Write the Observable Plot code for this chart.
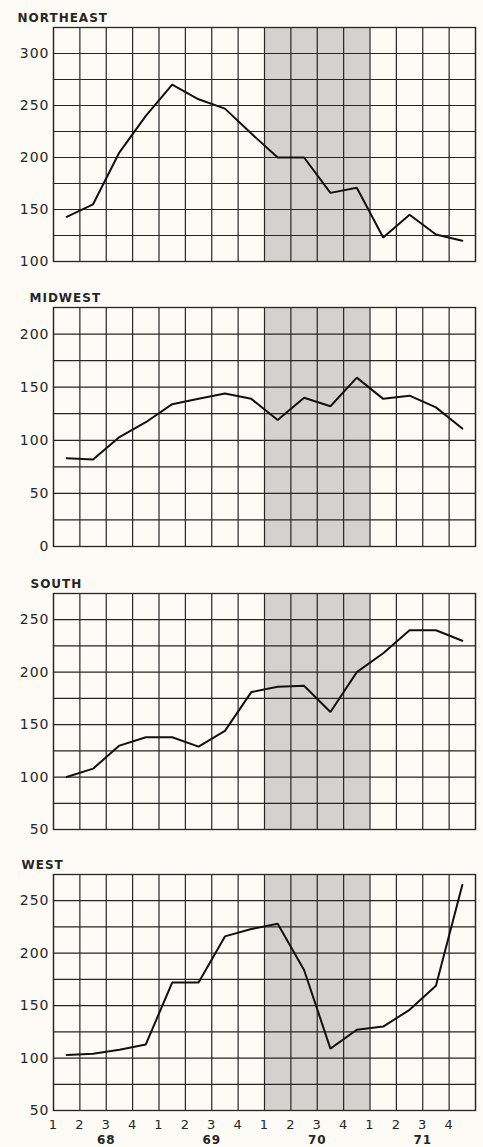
<!DOCTYPE html>
<html><head><meta charset="utf-8">
<script src="https://cdn.jsdelivr.net/npm/d3@7"></script>
<script src="https://cdn.jsdelivr.net/npm/@observablehq/plot@0.6"></script>
<style>
html,body{margin:0;padding:0;background:#fcfbf6;}
#chart{width:483px;}
#chart svg{display:block;}
#chart svg text{letter-spacing:1px;}
#chart svg text.title{letter-spacing:1.5px;}
</style></head><body><div id="chart"></div>
<script>
// ---- data ----
const quarters = ["1","2","3","4","1","2","3","4","1","2","3","4","1","2","3","4"];
const years = ["68","69","70","71"];
const regions = ["NORTHEAST","MIDWEST","SOUTH","WEST"];
const northeast = [143,155,205,240,270,256,247,223,200,200,166,171,123,145,126,120];
const midwest   = [83,82,103,117,134,139,144,139,119,140,132,159,139,142,131,111];
const south     = [100,108,130,138,138,129,144,181,186,187,162,200,218,240,240,230];
const west      = [103,104,108,113,172,172,216,223,228,184,109,127,130,146,169,265];
const yDomains  = [[100,325],[0,225],[50,275],[50,275]];
const recessionQuarters = [8,12]; // 1970 Q1 through Q4

// ---- layout (styles / positions) ----
const layout = [
  {height:280, top:27, bottom:19, titleX:17},
  {height:280, top:27, bottom:14, titleX:29},
  {height:280, top:33, bottom:11, titleX:30},
  {height:307, top:34, bottom:37, titleX:21}
];
const series = [northeast, midwest, south, west];
const ink = "#262626";
const chart = document.getElementById("chart");

series.forEach((values, k) => {
  const [lo, hi] = yDomains[k];
  const L = layout[k];
  const last = k === series.length - 1;
  const marks = [
    Plot.rect([recessionQuarters], {x1: d => d[0], x2: d => d[1], fill: "#d4d2ce"}),
    Plot.gridX(d3.range(0, 17), {stroke: ink, strokeOpacity: 1, strokeWidth: 1.2}),
    Plot.gridY(d3.range(lo, hi + 1, 25), {stroke: ink, strokeOpacity: 1, strokeWidth: 1.2}),
    Plot.frame({stroke: ink, strokeWidth: 1.3}),
    Plot.axisY(d3.range(lo, hi, 50), {tickSize: 0, tickPadding: 4, fontSize: 14, fill: ink}),
    Plot.line(values, {x: (d, i) => i + 0.5, y: d => d, stroke: "#111", strokeWidth: 2, strokeLinejoin: "miter"}),
    Plot.text([regions[k]], {text: d => d, frameAnchor: "top-left", textAnchor: "start", lineAnchor: "middle",
      dx: L.titleX - 53, dy: -9, fontWeight: "bold", fontSize: 12, fill: ink, className: "title"})
  ];
  if (last) {
    marks.push(Plot.axisX(d3.range(0, 16), {tickSize: 0, tickPadding: 9, fontSize: 13, fill: ink,
      tickFormat: i => quarters[i]}));
    marks.push(Plot.text(years, {x: (d, i) => i * 4 + 2, text: d => d, frameAnchor: "bottom", lineAnchor: "middle",
      dy: 30, fontWeight: "bold", fontSize: 12, fill: ink}));
  }
  const svg = Plot.plot({
    width: 483,
    height: L.height,
    marginLeft: 53,
    marginRight: 8,
    marginTop: L.top,
    marginBottom: L.bottom,
    x: {domain: [0, 16], axis: last ? undefined : null},
    y: {domain: [lo, hi]},
    style: {fontFamily: "DejaVu Sans", background: "#fcfbf6", color: ink, overflow: "visible"},
    marks
  });
  chart.appendChild(svg);
});
</script>
</body></html>
